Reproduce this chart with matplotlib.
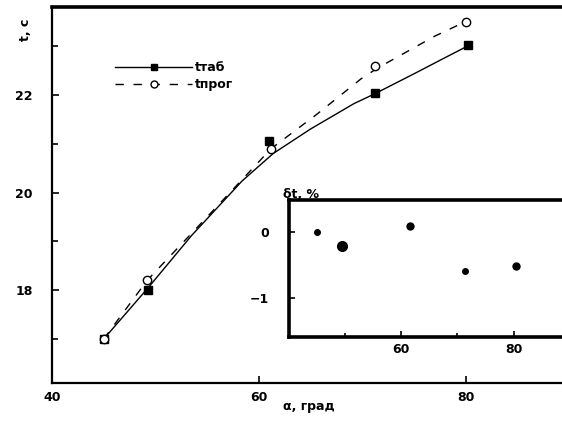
import matplotlib.pyplot as plt
from matplotlib.lines import Line2D
from matplotlib.ticker import FixedLocator

# measured points
alpha_tab = [45, 49.3, 61, 71.2, 80.2]
t_tab = [17.0, 18.0, 21.05, 22.04, 23.02]
alpha_prog = [45, 49.2, 61.2, 71.2, 80.0]
t_prog = [17.0, 18.2, 20.9, 22.6, 23.5]

# smooth curves
curve_tab_x = [45, 49.3, 53.5, 58.4, 61.4, 65, 69.2, 71.2, 75, 78, 80.2]
curve_tab_y = [17.0, 18.05, 19.12, 20.24, 20.8, 21.3, 21.82, 22.02, 22.43, 22.76, 23.0]
curve_prog_x = [45, 49.2, 55, 61.2, 65.6, 69.9, 71.5, 74.8, 77, 80]
curve_prog_y = [17.0, 18.2, 19.5, 20.9, 21.6, 22.33, 22.55, 22.94, 23.2, 23.5]

# inset: relative deviation
alpha_dev = [45, 49.4, 61.5, 71.4, 80.4]
dev = [0.0, -0.21, 0.09, -0.59, -0.52]
dev_size = [4, 7, 5, 4, 5]

FONT = dict(fontsize=9, fontweight="bold", family="DejaVu Sans")

fig = plt.figure(figsize=(5.62, 4.23), dpi=100)
ax = fig.add_axes([0.0925, 0.0946, 0.92, 0.889])

ax.plot(curve_tab_x, curve_tab_y, color="black", lw=1.0)
ax.plot(curve_prog_x, curve_prog_y, color="black", lw=1.0, ls=(0, (6, 7)))
ax.plot(alpha_tab, t_tab, ls="none", marker="s", ms=6, mfc="black", mec="black")
ax.plot(alpha_prog, t_prog, ls="none", marker="o", ms=6, mfc="white", mec="black")

ax.set_xlim(40, 90)
ax.set_ylim(16.1, 23.8)
ax.xaxis.set_major_locator(FixedLocator([40, 60, 80]))
ax.yaxis.set_major_locator(FixedLocator([18, 20, 22]))
ax.yaxis.set_minor_locator(FixedLocator([17, 19, 21, 23]))
ax.tick_params(direction="in", length=5, width=1.2, labelsize=9, pad=14)
ax.tick_params(axis="x", pad=6)
ax.tick_params(which="minor", direction="in", length=4, width=1.2)
for lab in ax.get_xticklabels() + ax.get_yticklabels():
    lab.set_fontweight("bold")
for side in ["left", "bottom"]:
    ax.spines[side].set_linewidth(1.6)
ax.spines["top"].set_linewidth(2.6)
ax.spines["right"].set_linewidth(2.6)

handles = [
    Line2D([], [], color="black", lw=1.0, marker="s", ms=5, mfc="black"),
    Line2D([], [], color="black", lw=1.0, ls=(0, (6, 7)), marker="o", ms=5,
           mfc="white", mec="black"),
]
ax.legend(handles, ["tтаб", "tпрог"], loc="upper left",
          bbox_to_anchor=(0.1, 0.885), frameon=False,
          handlelength=6.2, handletextpad=0.2, labelspacing=0.3,
          prop=dict(size=9, weight="bold"))

fig.text(0.045, 0.93, "t, c", rotation=90, ha="center", va="center", **FONT)
fig.text(0.55, 0.04, "α, град", ha="center", va="center", **FONT)

# inset
ins = fig.add_axes([0.514, 0.2033, 0.5, 0.324])
for a, d, s in zip(alpha_dev, dev, dev_size):
    ins.plot(a, d, marker="o", ls="none", color="black", ms=s)
ins.set_xlim(40, 90)
ins.set_ylim(-1.59, 0.48)
ins.xaxis.set_major_locator(FixedLocator([60, 80]))
ins.xaxis.set_minor_locator(FixedLocator([50, 70]))
ins.yaxis.set_major_locator(FixedLocator([0, -1]))
ins.tick_params(direction="in", length=4, width=1.2, labelsize=9, pad=4)
ins.tick_params(axis="y", pad=14)
ins.tick_params(which="minor", direction="in", length=3, width=1.2)
for lab in ins.get_xticklabels() + ins.get_yticklabels():
    lab.set_fontweight("bold")
for sp in ins.spines.values():
    sp.set_linewidth(2.6)
fig.text(0.535, 0.54, "δt, %", ha="center", va="center", **FONT)

fig.savefig("out.png", dpi=100)
